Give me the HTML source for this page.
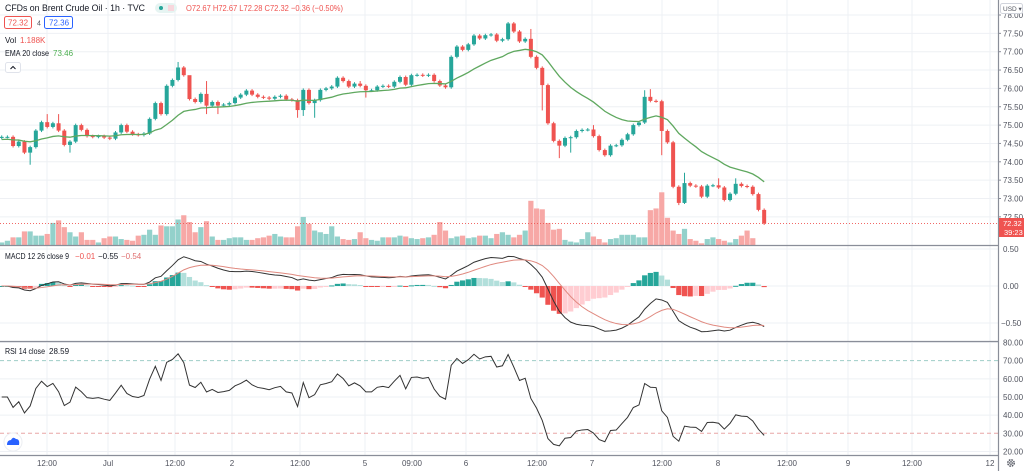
<!DOCTYPE html>
<html><head><meta charset="utf-8">
<style>
html,body{margin:0;padding:0;background:#fff;}
body{width:1024px;height:471px;overflow:hidden;position:relative;font-family:"Liberation Sans",sans-serif;}
svg{position:absolute;left:0;top:0;}
.t{font-family:"Liberation Sans",sans-serif;}
</style></head>
<body>
<svg id="chart" width="1024" height="471"></svg>
<script>
const closes=[74.68,74.68,74.43,74.55,74.25,74.4,74.85,75.08,74.95,75.05,74.85,74.46,74.55,75.0,74.87,74.7,74.68,74.7,74.66,74.63,74.8,75.0,74.82,74.75,74.73,74.77,75.17,75.6,75.3,76.07,76.23,76.57,76.36,75.71,75.63,75.85,75.53,75.63,75.53,75.56,75.6,75.75,75.83,75.94,75.83,75.77,
75.75,75.72,75.77,75.8,75.7,75.68,75.41,75.96,75.6,75.68,75.96,76.0,76.05,76.29,76.2,76.05,76.13,76.07,75.95,75.95,76.05,76.07,76.05,76.18,76.31,76.1,76.36,76.37,76.35,76.37,76.2,76.08,76.03,76.86,77.14,77.05,77.2,77.44,77.36,77.45,77.47,77.3,77.34,77.77,77.55,77.28,77.35,
76.86,76.56,76.09,75.05,74.57,74.44,74.65,74.67,74.84,74.87,74.88,74.7,74.32,74.18,74.44,74.45,74.6,74.75,75.0,75.07,75.77,75.66,75.65,74.84,74.53,73.32,72.88,73.42,73.35,73.33,73.05,73.35,73.36,73.3,72.96,73.13,73.4,73.34,73.32,73.12,72.69,72.32];
const firstOpen=74.65;
const highOverrides={8:75.3,10:75.3,31:76.72,33:76.3,36:76.2,63:76.2,93:77.62,104:75.0,113:75.95,114:75.98,120:73.7,126:73.55,129:73.55};
const lowOverrides={5:73.92,12:74.25,36:75.3,38:75.3,52:75.2,53:75.25,55:75.2,64:75.75,95:75.4,98:74.1,100:74.25,116:74.18,119:72.82,120:72.85};
const volumes=[3,5,9,9,16,16,11,11,13,26,29,21,15,10,15,6,6,3,8,10,10,7,6,5,11,12,18,12,23,22,22,30,35,27,15,21,28,10,6,6,8,9,9,6,6,8,9,11,13,10,9,9,22,33,25,17,15,13,22,10,7,6,7,15,8,6,5,9,9,9,11,10,8,7,8,9,12,27,17,8,10,11,8,9,11,11,
8,13,15,12,9,12,17,52,43,42,26,18,19,6,4,3,7,15,10,7,3,7,8,12,12,12,9,9,41,43,62,32,17,13,19,7,5,2,7,9,7,5,3,7,11,17,8];
const priceTicks=["78.00","77.50","77.00","76.50","76.00","75.50","75.00","74.50","74.00","73.50","73.00","72.50"];
const macdTicks=["0.50","0.00","-0.50"];
const rsiTicks=["80.00","70.00","60.00","50.00","40.00","30.00","20.00"];
const timeLabels=["12:00","Jul","12:00","2","12:00","5","09:00","6","12:00","7","12:00","8","12:00","9","12:00","12"];
const timeX=[47,108,175,232,300,365,412,466,537,592,662,718,787,848,912,990];

const NS="http://www.w3.org/2000/svg";
const svg=document.getElementById('chart');
function el(tag,attrs,parent){const e=document.createElementNS(NS,tag);for(const k in attrs)e.setAttribute(k,attrs[k]);(parent||svg).appendChild(e);return e;}
function txt(x,y,s,attrs){const e=el('text',Object.assign({x:x,y:y,'class':'t'},attrs||{}));e.textContent=s;return e;}
const xOf=i=>1.7+5.69*i;
const pY=p=>15+(78-p)*36.7;
const vY=v=>245-v*0.85;
const mY=m=>286-74*m;
const rY=r=>342.5+(80-r)*1.816;
const G='#26a69a',R='#ef5350';

const grid=el('g',{});
timeX.forEach(x=>el('line',{x1:x,x2:x,y1:0,y2:455,stroke:'#eef0f4','stroke-width':1},grid));
priceTicks.forEach(t=>{const y=pY(parseFloat(t));el('line',{x1:0,x2:998,y1:y,y2:y,stroke:'#eef0f4'},grid);});
macdTicks.forEach(t=>{const y=mY(parseFloat(t));el('line',{x1:0,x2:998,y1:y,y2:y,stroke:'#eef0f4'},grid);});
rsiTicks.forEach(t=>{const v=parseFloat(t);if(v!==70&&v!==30){const y=rY(v);el('line',{x1:0,x2:998,y1:y,y2:y,stroke:'#eef0f4'},grid);}});
el('line',{x1:0,x2:998,y1:rY(70),y2:rY(70),stroke:'#9fcdc7','stroke-dasharray':'4 3'},grid);
el('line',{x1:0,x2:998,y1:rY(30),y2:rY(30),stroke:'#e8a6a6','stroke-dasharray':'4 3'},grid);

const vg=el('g',{});
volumes.forEach((v,i)=>{const o=i?closes[i-1]:firstOpen;const up=closes[i]>=o;
 const b=el('rect',{x:xOf(i)-2.6,y:vY(v),width:5.2,height:245-vY(v),fill:up?'#93d1cb':'#f7a8a6'},vg);
 
});
el('line',{x1:0,x2:998,y1:pY(72.32),y2:pY(72.32),stroke:'#ef5350','stroke-dasharray':'1 2','stroke-width':0.8});

const cg=el('g',{});
closes.forEach((c,i)=>{const o=i?closes[i-1]:firstOpen;const up=c>=o;const col=up?G:R;
 const hi=highOverrides[i]!==undefined?highOverrides[i]:Math.max(o,c)+0.04;
 const lo=lowOverrides[i]!==undefined?lowOverrides[i]:Math.min(o,c)-0.04;
 const x=xOf(i);
 const w=el('line',{x1:x,x2:x,y1:pY(hi),y2:pY(lo),stroke:col,'stroke-width':1},cg);
 
 const top=pY(Math.max(o,c)),bot=pY(Math.min(o,c));
 const b=el('rect',{x:x-2,y:top,width:4,height:Math.max(1,bot-top),fill:col},cg);
 
});
function ema(arr,n,seed){const k=2/(n+1);let e=seed;return arr.map(v=>e=v*k+e*(1-k));}
const ema20=ema(closes,20,74.6);
const ep=el('polyline',{points:ema20.map((v,i)=>xOf(i)+','+pY(v)).join(' '),fill:'none',stroke:'#5fa85f','stroke-width':1.3});


const e12=ema(closes,12,closes[0]),e26=ema(closes,26,closes[0]);
const macd=e12.map((v,i)=>v-e26[i]);
const sig=ema(macd,9,0);
const hist=macd.map((v,i)=>v-sig[i]);
const hg=el('g',{});
hist.forEach((h,i)=>{const prev=i?hist[i-1]:0;let col;
 if(h>=0)col=h>=prev?'#26a69a':'#b2dfdb';else col=h<=prev?'#ef5350':'#ffcdd2';
 const y1=mY(Math.max(h,0)),y2=mY(Math.min(h,0));
 const b=el('rect',{x:xOf(i)-2.6,y:y1,width:5.2,height:Math.max(1,y2-y1),fill:col},hg);
 
});
const ml=el('polyline',{points:macd.map((v,i)=>xOf(i)+','+mY(v)).join(' '),fill:'none',stroke:'#333','stroke-width':1});

const sl=el('polyline',{points:sig.map((v,i)=>xOf(i)+','+mY(v)).join(' '),fill:'none',stroke:'#e08a80','stroke-width':1});


const rsi=[];let ag=0.08,al=0.08;
closes.forEach((c,i)=>{if(i===0){rsi.push(50);return;}const d=c-closes[i-1];const g=Math.max(d,0),l=Math.max(-d,0);
 ag=(ag*13+g)/14;al=(al*13+l)/14;
 rsi.push(100-100/(1+ag/al));});
const rl=el('polyline',{points:rsi.map((v,i)=>xOf(i)+','+rY(v)).join(' '),fill:'none',stroke:'#333','stroke-width':1});


el('line',{x1:0,x2:1024,y1:245.5,y2:245.5,stroke:'#8a8e99','stroke-width':1.2});
el('line',{x1:0,x2:1024,y1:341.5,y2:341.5,stroke:'#8a8e99','stroke-width':1.2});
el('line',{x1:0,x2:1024,y1:455.5,y2:455.5,stroke:'#8a8e99','stroke-width':1.2});
el('rect',{x:999,y:0,width:25,height:471,fill:'#fff'});
el('line',{x1:998.5,x2:998.5,y1:0,y2:471,stroke:'#8a8e99','stroke-width':1.2});

const ax=el('g',{'font-size':8,fill:'#50535e'});
priceTicks.forEach(t=>{const y=pY(parseFloat(t));const e=txt(1003,y+3,t,{});ax.appendChild(e);el('line',{x1:998,x2:1001,y1:y,y2:y,stroke:'#8a8e99'},ax);});
macdTicks.forEach(t=>{const y=mY(parseFloat(t));const e=txt(t[0]=='-'?1001:1003,y+3,t.replace('-','\u2212'),{});ax.appendChild(e);});
rsiTicks.forEach(t=>{const y=rY(parseFloat(t));const e=txt(1003,y+3,t,{});ax.appendChild(e);});
const ub=el('rect',{x:1000.5,y:3.5,width:22,height:10,rx:2,fill:'#fff',stroke:'#d1d4dc'});

txt(1003,11,'USD \u25BE',{'font-size':6.5,fill:'#50535e'});
const pl=el('rect',{x:999,y:218,width:25,height:19,fill:'#ef5350'});

txt(1003,226,'72.32',{'font-size':7.5,fill:'#fff'});
txt(1004,235,'39:23',{'font-size':7.5,fill:'#fff'});

const tx=el('g',{'font-size':8,fill:'#50535e','text-anchor':'middle'});
timeLabels.forEach((t,i)=>{const e=txt(timeX[i],466,t,{});tx.appendChild(e);});
const gear=el('g',{transform:'translate(1011,463)'});
el('circle',{cx:0,cy:0,r:3.2,fill:'none',stroke:'#50535e','stroke-width':1.4,'stroke-dasharray':'1.6 0.9'},gear);
el('circle',{cx:0,cy:0,r:1.3,fill:'none',stroke:'#50535e','stroke-width':0.9},gear);

const lg=el('g',{});
let e=txt(5,11,'CFDs on Brent Crude Oil · 1h · TVC',{'font-size':9,fill:'#131722',textLength:140,lengthAdjust:'spacingAndGlyphs'});lg.appendChild(e);
el('rect',{x:155,y:3,width:22,height:10,rx:5,fill:'#e6f4f2'},lg);
el('circle',{cx:161,cy:8,r:2,fill:'#26a69a'},lg);
el('rect',{x:168,y:5,width:6,height:6,fill:'#f8d7dd'},lg);
e=txt(186,11,'O72.67 H72.67 L72.28 C72.32 \u22120.36 (\u22120.50%)',{'font-size':8.5,fill:'#ef5350',textLength:157,lengthAdjust:'spacingAndGlyphs'});lg.appendChild(e);
const b1=el('rect',{x:4.5,y:16.5,width:27,height:12,rx:2,fill:'#fff',stroke:'#ef5350'},lg);
txt(8,25.5,'72.32',{'font-size':8,fill:'#ef5350'});
txt(37,25.5,'4',{'font-size':7,fill:'#50535e'});
const b2=el('rect',{x:44.5,y:16.5,width:28,height:12,rx:2,fill:'#fff',stroke:'#2962ff'},lg);
txt(49,25.5,'72.36',{'font-size':8,fill:'#2962ff'});
e=txt(5,43,'Vol',{'font-size':8,fill:'#131722'});
txt(20,43,'1.188K',{'font-size':8,fill:'#ef5350'});
e=txt(5,56,'EMA 20 close',{'font-size':8,fill:'#131722',textLength:44,lengthAdjust:'spacingAndGlyphs'});
txt(53,56,'73.46',{'font-size':8,fill:'#4caf50'});
const cb=el('rect',{x:5.5,y:62.5,width:15,height:10,rx:2,fill:'#fff',stroke:'#e0e3eb'});
el('polyline',{points:'10.5,69 13,66.5 15.5,69',fill:'none',stroke:'#131722','stroke-width':1});
e=txt(5,259,'MACD 12 26 close 9',{'font-size':8,fill:'#131722',textLength:64,lengthAdjust:'spacingAndGlyphs'});
txt(75,259,'\u22120.01',{'font-size':8,fill:'#ef5350'});
txt(98,259,'\u22120.55',{'font-size':8,fill:'#131722'});
txt(121,259,'\u22120.54',{'font-size':8,fill:'#e07070'});
e=txt(5,354,'RSI 14 close',{'font-size':8,fill:'#131722',textLength:40,lengthAdjust:'spacingAndGlyphs'});
txt(49,354,'28.59',{'font-size':8,fill:'#131722'});
const lo=el('g',{});
el('circle',{cx:13,cy:442,r:9,fill:'#fff',stroke:'#eceef2'},lo);
el('path',{d:'M7,445 Q7,440 11,440 Q13,436 16,439 Q20,439 19,445 Z',fill:'#2962ff'},lo);
</script>
</body></html>
